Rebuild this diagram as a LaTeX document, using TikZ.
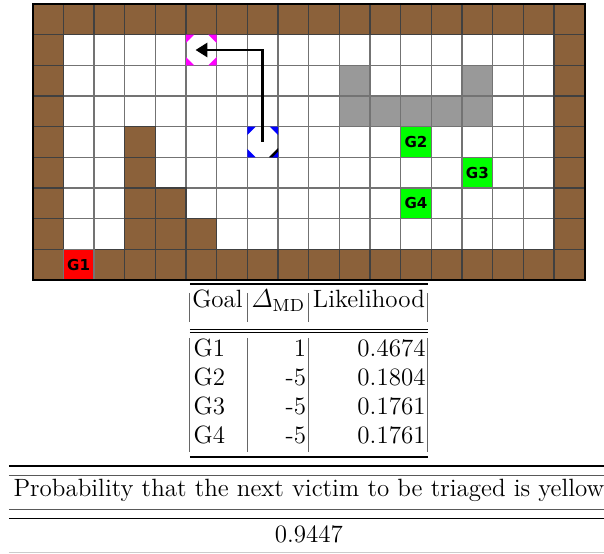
\documentclass[tikz,border=0pt]{standalone}
\usepackage{amsmath}
\usepackage{fontspec}
\newfontfamily\labelfont{DejaVu Sans}
\usetikzlibrary{arrows.meta, positioning, calc}

\definecolor{wallbrown}{RGB}{139,97,58}
\definecolor{blockgray}{RGB}{153,153,153}
\definecolor{goalgreen}{RGB}{0,255,0}
\definecolor{goalred}{RGB}{255,0,0}
\definecolor{gridgray}{RGB}{115,115,115}
\definecolor{agentblue}{RGB}{0,0,255}
\definecolor{targetpink}{RGB}{255,0,255}

% corner triangles of a marker cell
\newcommand{\markcorners}[2]{%
  \fill[#2] (#1.north west) -- +(0.27,0) -- +(0,-0.27) -- cycle;
  \fill[#2] (#1.north east) -- +(-0.27,0) -- +(0,-0.27) -- cycle;
  \fill[#2] (#1.south west) -- +(0.27,0) -- +(0,0.27) -- cycle;
  \fill[#2] (#1.south east) -- +(-0.27,0) -- +(0,0.27) -- cycle;
}

\begin{document}
\begin{tikzpicture}[x=0.5cm, y=0.5cm,
  cell/.style={draw=gridgray, line width=0.5pt, minimum size=0.5cm, inner sep=0pt, outer sep=0pt},
  wall/.style={cell, fill=wallbrown, draw=black!75},
  block/.style={cell, fill=blockgray},
  goal/.style={cell, font=\labelfont\bfseries\fontsize{7}{8}\selectfont},
  path/.style={line width=1.3pt, -{Triangle[length=5.5pt, width=6.5pt]}},
  rule/.style={line width=0.9pt},
  thinrule/.style={line width=0.45pt},
  txt/.style={font=\fontsize{11.6}{14}\selectfont, inner sep=0pt}
]
  \useasboundingbox (-1.066,0.13) rectangle (18.63,-17.93);

  % floor
  \fill[white] (0,-9) rectangle (18,0);
  \draw[gridgray, line width=0.5pt, step=0.5cm] (0,-9) grid (18,0);

  % walls
  \foreach \c in {0,...,17} {
    \node[wall] (wt-\c) at (\c+0.5,-0.5) {};
    \node[wall] (wb-\c) at (\c+0.5,-8.5) {};
  }
  \foreach \r in {1,...,7} {
    \node[wall] (wl-\r) at (0.5,-\r-0.5) {};
    \node[wall] (wr-\r) at (17.5,-\r-0.5) {};
  }
  \foreach \c/\r in {3/4,3/5,3/6,3/7,4/6,4/7,5/7}
    \node[wall] (w-\c-\r) at (\c+0.5,-\r-0.5) {};

  % obstacles
  \foreach \c/\r in {10/2,14/2,10/3,11/3,12/3,13/3,14/3}
    \node[block] (b-\c-\r) at (\c+0.5,-\r-0.5) {};

  % goals
  \node[goal, fill=goalred]   (G1) at (1.5,-8.5)  {G1};
  \node[goal, fill=goalgreen] (G2) at (12.5,-4.5) {G2};
  \node[goal, fill=goalgreen] (G3) at (14.5,-5.5) {G3};
  \node[goal, fill=goalgreen] (G4) at (12.5,-6.5) {G4};

  \draw[black, line width=1pt] (0,-9) rectangle (18,0);

  % agent and its target
  \node[cell, draw=none] (agent)  at (7.5,-4.5) {};
  \node[cell, draw=none] (target) at (5.5,-1.5) {};
  \markcorners{agent}{agentblue}
  \fill[black] (agent.south east) -- +(-0.3,0) -- +(0,0.3) -- cycle;
  \fill[agentblue] (agent.south east) -- +(-0.18,0) -- +(0,0.18) -- cycle;
  \markcorners{target}{targetpink}
  \coordinate (tip) at ($(target.west)+(0.31,0)$);
  \draw[path] (agent.center) |- (tip);

  % likelihood table
  \draw[rule] (5.129,-9.146) -- (12.889,-9.146);
  \foreach \x in {5.129,7.02,9.009,12.889} {
    \draw[thinrule, gray!80!black] (\x,-9.423) -- (\x,-10.368);
    \draw[thinrule, gray!80!black] (\x,-10.89) -- (\x,-14.61);
  }
  \draw[thinrule] (5.129,-10.61) -- (12.889,-10.61);
  \draw[thinrule] (5.129,-10.71) -- (12.889,-10.71);
  \draw[rule] (5.129,-14.77) -- (12.889,-14.77);

  \node[txt, anchor=base west] (hgoal) at (5.19,-9.889)  {Goal};
  \node[txt, anchor=base]      (hmd)   at (8.01,-9.889)  {$\varDelta_{\mathrm{MD}}$};
  \node[txt, anchor=base]      (hlik)  at (10.965,-9.889) {Likelihood};

  \foreach \g/\d/\p [count=\i from 0] in {G1/1/0.4674, G2/-5/0.1804, G3/-5/0.1761, G4/-5/0.1761} {
    \node[txt, anchor=base west] (goal-\i) at (5.236,-11.51-0.939*\i)  {\g};
    \node[txt, anchor=base east] (md-\i)   at (8.927,-11.51-0.939*\i)  {\d};
    \node[txt, anchor=base east] (lik-\i)  at (12.824,-11.51-0.939*\i) {\p};
  }

  % probability table
  \draw[rule] (-0.773,-15.06) -- (18.7,-15.06);
  \draw[thinrule, gray!70!black] (-0.773,-15.39) -- (18.7,-15.39);
  \node[txt, anchor=base] (prob) at (9.009,-16.07) {Probability that the next victim to be triaged is yellow};
  \draw[thinrule, gray!70!black] (-0.773,-16.5) -- (18.7,-16.5);
  \draw[thinrule] (-0.773,-16.79) -- (18.7,-16.79);
  \node[txt, anchor=base] (pval) at (9.009,-17.57) {0.9447};
  \draw[thinrule, gray!40] (-0.773,-17.89) -- (18.7,-17.89);
\end{tikzpicture}
\end{document}
